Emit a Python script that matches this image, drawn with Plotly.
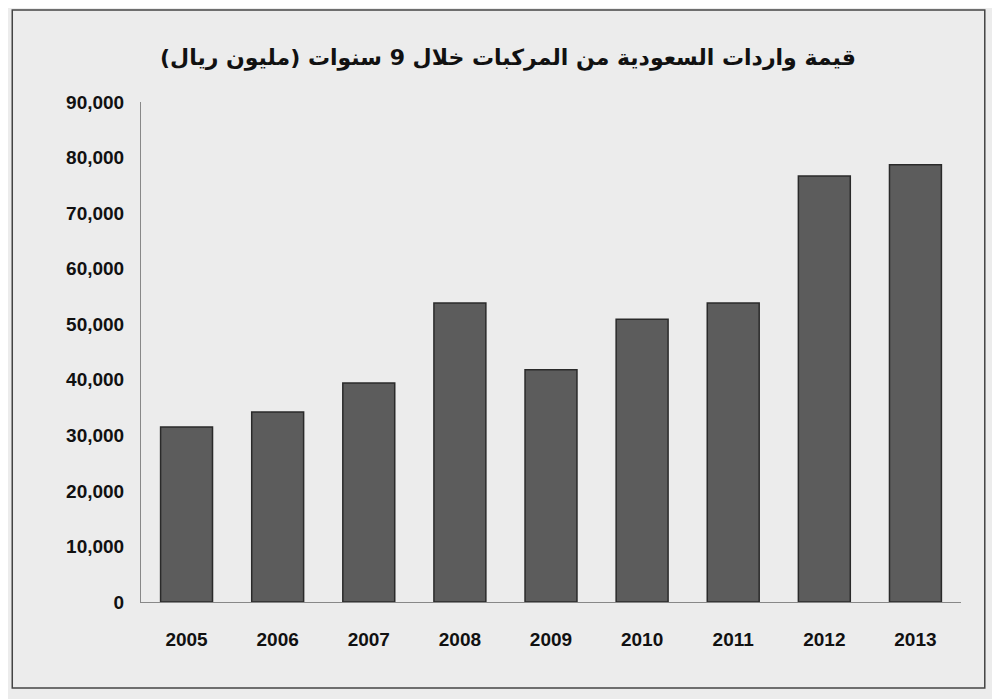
import plotly.graph_objects as go

years = ["2005","2006","2007","2008","2009","2010","2011","2012","2013"]
values = [31500, 34200, 39400, 53800, 41800, 50900, 53800, 76700, 78700]
title = "قيمة واردات السعودية من المركبات خلال 9 سنوات (مليون ريال)"

fig = go.Figure(go.Bar(
    x=years, y=values,
    marker=dict(color="#5c5c5c", line=dict(color="#2a2a2a", width=1.5)),
    width=0.57,
))
fig.update_layout(
    width=1000, height=699,
    margin=dict(l=133, r=47, t=94, b=105),
    paper_bgcolor="#ececec", plot_bgcolor="rgba(0,0,0,0)",
    showlegend=False,
    title=dict(text="<b>"+title+"</b>", x=0.5, xanchor="center", y=0.93, yanchor="middle",
               font=dict(family="DejaVu Sans, Arial", size=22, color="#111")),
    font=dict(family="Liberation Sans, Arial", size=19, color="#111"),
    shapes=[dict(type="rect", xref="paper", yref="paper", x0=-0.157, x1=1.029, y0=-0.172, y1=1.184,
                 line=dict(color="#444", width=1.5), fillcolor="rgba(0,0,0,0)")],
)
fig.update_xaxes(showline=True, linecolor="#888", linewidth=1, ticks="",
                 tickfont=dict(family="Liberation Sans, Arial", size=19), ticklabelstandoff=20)
fig.update_yaxes(range=[0, 90000], dtick=10000, tickformat=",", showgrid=False,
                 showline=True, linecolor="#888", zeroline=False,
                 tickfont=dict(family="Liberation Sans, Arial", size=19), ticklabelstandoff=12)
fig.for_each_xaxis(lambda a: a.update(tickprefix="<b>", ticksuffix="</b>"))
fig.for_each_yaxis(lambda a: a.update(tickprefix="<b>", ticksuffix="</b>"))
fig.write_html("out.html")
